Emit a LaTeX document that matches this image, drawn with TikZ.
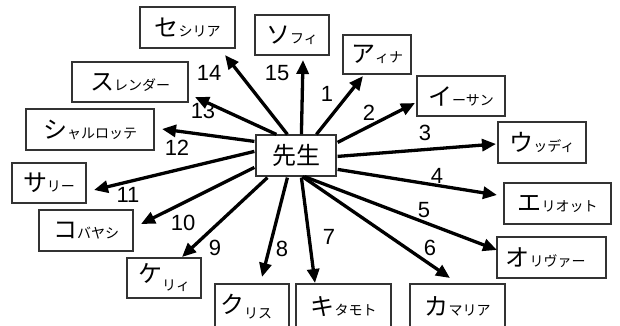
\documentclass[tikz,border=0pt]{standalone}
\usepackage{fontspec}
\setmainfont{Liberation Sans}
\newfontfamily\jp{Noto Sans CJK JP}
\usetikzlibrary{arrows.meta,calc}
% big initial kana followed by the small rest of the name
\newcommand\kname[2]{{\jp\fontsize{24}{24}\selectfont #1}{\jp\fontsize{14}{14}\selectfont #2}}
\newcommand\knamelow[3]{{\jp\fontsize{24}{24}\selectfont #1}\raisebox{-#3pt}{\jp\fontsize{14}{14}\selectfont #2}}

\begin{document}
\begin{tikzpicture}[x=1pt,y=-1pt,
  person/.style 2 args={draw=black!80, line width=1.2pt, fill=white, inner sep=0pt,
    minimum width=#1pt, minimum height=#2pt, anchor=center},
  link/.style={line width=3.3pt, -{Triangle[length=14pt,width=12pt]}},
  num/.style={font=\fontsize{22}{22}\selectfont, inner sep=0pt}]
\useasboundingbox (0,0) rectangle (620,325);

% teacher in the middle
\node[person={80}{41}] (t) at (296,155.5) {\kname{先生}{}};

% students around
\node[person={95}{41}]  (p14) at (187.5,27.5) {\kname{セ}{シリア}};
\node[person={74}{40}]  (p15) at (292,35)     {\kname{ソ}{フィ}};
\node[person={68}{39}]  (p1)  at (377,54.5)   {\kname{ア}{ィナ}};
\node[person={88}{40}]  (p2)  at (461,96)     {\kname{イ}{ーサン}};
\node[person={88}{41}]  (p3)  at (542,142.5)  {\kname{ウ}{ッディ}};
\node[person={107}{41}] (p4)  at (557.5,203.5){\kname{エ}{リオット}};
\node[person={109}{41}] (p5)  at (551.5,257.5){\hspace*{-12pt}\kname{オ}{リヴァー}};
% the bottom row runs past the lower edge
\node[person={95}{46}]  (p6)  at (457.5,307)  {\raisebox{2pt}{\kname{カ}{マリア}}};
\node[person={95}{46}]  (p7)  at (343.5,307)  {\raisebox{2pt}{\kname{キ}{タモト}}};
\node[person={74}{46}]  (p8)  at (252,307)    {\raisebox{5pt}{\hspace*{-12pt}\knamelow{ク}{リス}{5}}};
\node[person={74}{40}]  (p9)  at (164,278)    {\knamelow{ケ}{リィ}{8}};
\node[person={94}{41}]  (p10) at (86,230.5)   {\kname{コ}{バヤシ}};
\node[person={74}{40}]  (p11) at (49,183)     {\kname{サ}{リー}};
\node[person={128}{41}] (p12) at (90,129.5)   {\kname{シ}{ャルロッテ}};
\node[person={116}{40}] (p13) at (130,82)     {\kname{ス}{レンダー}};

% arrow tips, just short of each box
\coordinate (e1)  at (363,76);
\coordinate (e2)  at (415,103);
\coordinate (e3)  at (496,144);
\coordinate (e4)  at (497,195);
\coordinate (e5)  at (497,250);
\coordinate (e6)  at (450,278);
\coordinate (e7)  at (315,283);
\coordinate (e8)  at (262,277);
\coordinate (e9)  at (182,257);
\coordinate (e10) at (141,224);
\coordinate (e11) at (94,190);
\coordinate (e12) at (162,129);
\coordinate (e13) at (195,97);
\coordinate (e14) at (225,55);
\coordinate (e15) at (303,60);

\draw[link] ($(t.north west)+(61,0)$) -- (e1);
\draw[link] ($(t.north east)+(1,8)$)  -- (e2);
\draw[link] ($(t.north east)+(1,22)$) -- (e3);
\draw[link] ($(t.north east)+(1,35)$) -- (e4);
\draw[link] ($(t.south west)+(49,0)$) -- (e5);
\draw[link] ($(t.south west)+(47,0)$) -- (e6);
\draw[link] ($(t.south west)+(46,1)$) -- (e7);
\draw[link] ($(t.south west)+(32,1)$) -- (e8);
\draw[link] ($(t.south west)+(12,1)$) -- (e9);
\draw[link] ($(t.north west)+(-1,33)$) -- (e10);
\draw[link] ($(t.north west)+(-1,17)$) -- (e11);
\draw[link] ($(t.north west)+(-1,7)$)  -- (e12);
\draw[link] ($(t.north west)+(21,0)$) -- (e13);
\draw[link] ($(t.north west)+(32,0)$) -- (e14);
\draw[link] ($(t.north west)+(46,0)$) -- (e15);

% edge numbers
\node[num] (l1)  at (327,94)  {1};
\node[num] (l2)  at (369,113) {2};
\node[num] (l3)  at (425,133) {3};
\node[num] (l4)  at (437,176) {4};
\node[num] (l5)  at (424,210) {5};
\node[num] (l6)  at (430,248) {6};
\node[num] (l7)  at (329,237) {7};
\node[num] (l8)  at (282,249) {8};
\node[num] (l9)  at (215,248) {9};
\node[num] (l10) at (183,223) {10};
\node[num] (l11) at (128,195) {11};
\node[num] (l12) at (177,148) {12};
\node[num] (l13) at (203,111) {13};
\node[num] (l14) at (209,73)  {14};
\node[num] (l15) at (277,73)  {15};
\end{tikzpicture}
\end{document}
